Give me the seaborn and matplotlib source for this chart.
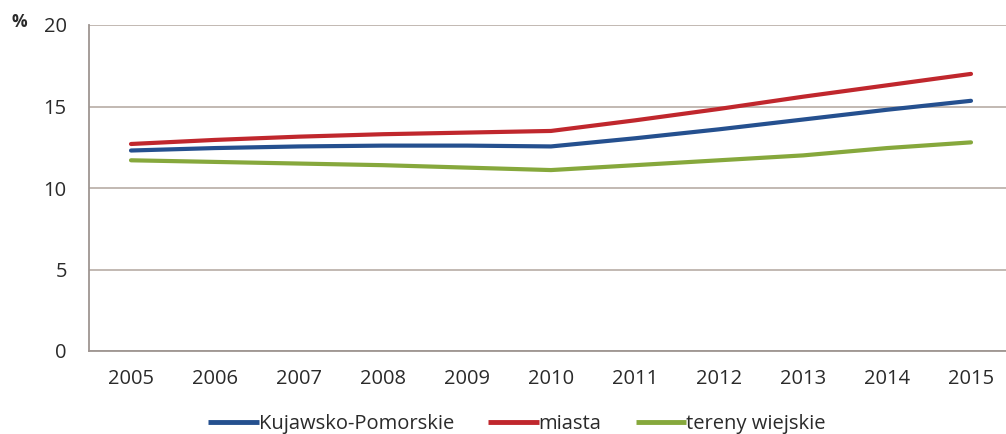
import matplotlib.pyplot as plt
import pandas as pd
import seaborn as sns

lata = [2005, 2006, 2007, 2008, 2009, 2010, 2011, 2012, 2013, 2014, 2015]
kujawsko_pomorskie = [12.3, 12.45, 12.55, 12.6, 12.6, 12.55, 13.05, 13.6, 14.2, 14.8, 15.35]
miasta = [12.7, 12.95, 13.15, 13.3, 13.4, 13.5, 14.15, 14.85, 15.6, 16.3, 17.0]
tereny_wiejskie = [11.7, 11.6, 11.5, 11.4, 11.25, 11.1, 11.4, 11.7, 12.0, 12.45, 12.8]

serie = ["Kujawsko-Pomorskie", "miasta", "tereny wiejskie"]
kolory = ["#25508F", "#C0272D", "#86A83C"]

df = pd.DataFrame({
    "rok": list(range(len(lata))) * 3,
    "wartosc": kujawsko_pomorskie + miasta + tereny_wiejskie,
    "seria": [s for s in serie for _ in lata],
})

sns.set_style("white")
plt.rcParams["font.family"] = ["Open Sans", "DejaVu Sans"]
rozmiar = 14.5
kolor_tekstu = "#2A2A2A"

fig = plt.figure(figsize=(10.06, 4.34), dpi=100)
ax = fig.add_axes([89 / 1006, 1 - 351 / 434, 924 / 1006, 326 / 434])

sns.lineplot(data=df, x="rok", y="wartosc", hue="seria", hue_order=serie,
             palette=kolory, linewidth=3, ax=ax, legend=False)

ax.set_xlim(-0.5, len(lata) - 0.5)
ax.set_ylim(0, 20)
ax.set_yticks([0, 5, 10, 15, 20])
ax.yaxis.grid(True, color="#BDB3AD", linewidth=1.3)
ax.set_axisbelow(True)

ax.set_xticks(range(len(lata)))
ax.set_xticklabels([str(r) for r in lata])
ax.set_xticks([i - 0.5 for i in range(len(lata) + 1)], minor=True)
ax.tick_params(axis="x", which="major", length=0, pad=13, labelsize=rozmiar,
               labelcolor=kolor_tekstu)
ax.tick_params(axis="x", which="minor", length=5, color="#9E9591", direction="out", width=1.2)
ax.tick_params(axis="y", length=6, color="#9E9591", direction="out", width=1.2,
               pad=10, labelsize=rozmiar, labelcolor=kolor_tekstu)
for lbl in ax.get_xticklabels() + ax.get_yticklabels():
    lbl.set_fontweight("medium")
ax.set_xlabel("")
ax.set_ylabel("")

for side in ["top", "right"]:
    ax.spines[side].set_visible(False)
for side in ["left", "bottom"]:
    ax.spines[side].set_color("#9E9591")
    ax.spines[side].set_linewidth(1.3)

fig.text(12 / 1006, 1 - 22 / 434, "%", fontsize=12.5, fontweight="bold", color=kolor_tekstu,
         va="center", ha="left")

uchwyty = [plt.Line2D([], [], color=k, linewidth=3.5, solid_capstyle="butt") for k in kolory]
leg = fig.legend(uchwyty, serie, loc="center", bbox_to_anchor=(517 / 1006, 1 - 424 / 434),
                 ncol=3, frameon=False, fontsize=rozmiar, handlelength=2.5, handletextpad=0.0,
                 columnspacing=1.7, labelcolor=kolor_tekstu, borderpad=0, borderaxespad=0)
for t in leg.get_texts():
    t.set_fontweight("medium")

fig.savefig("out.png", dpi=100)
